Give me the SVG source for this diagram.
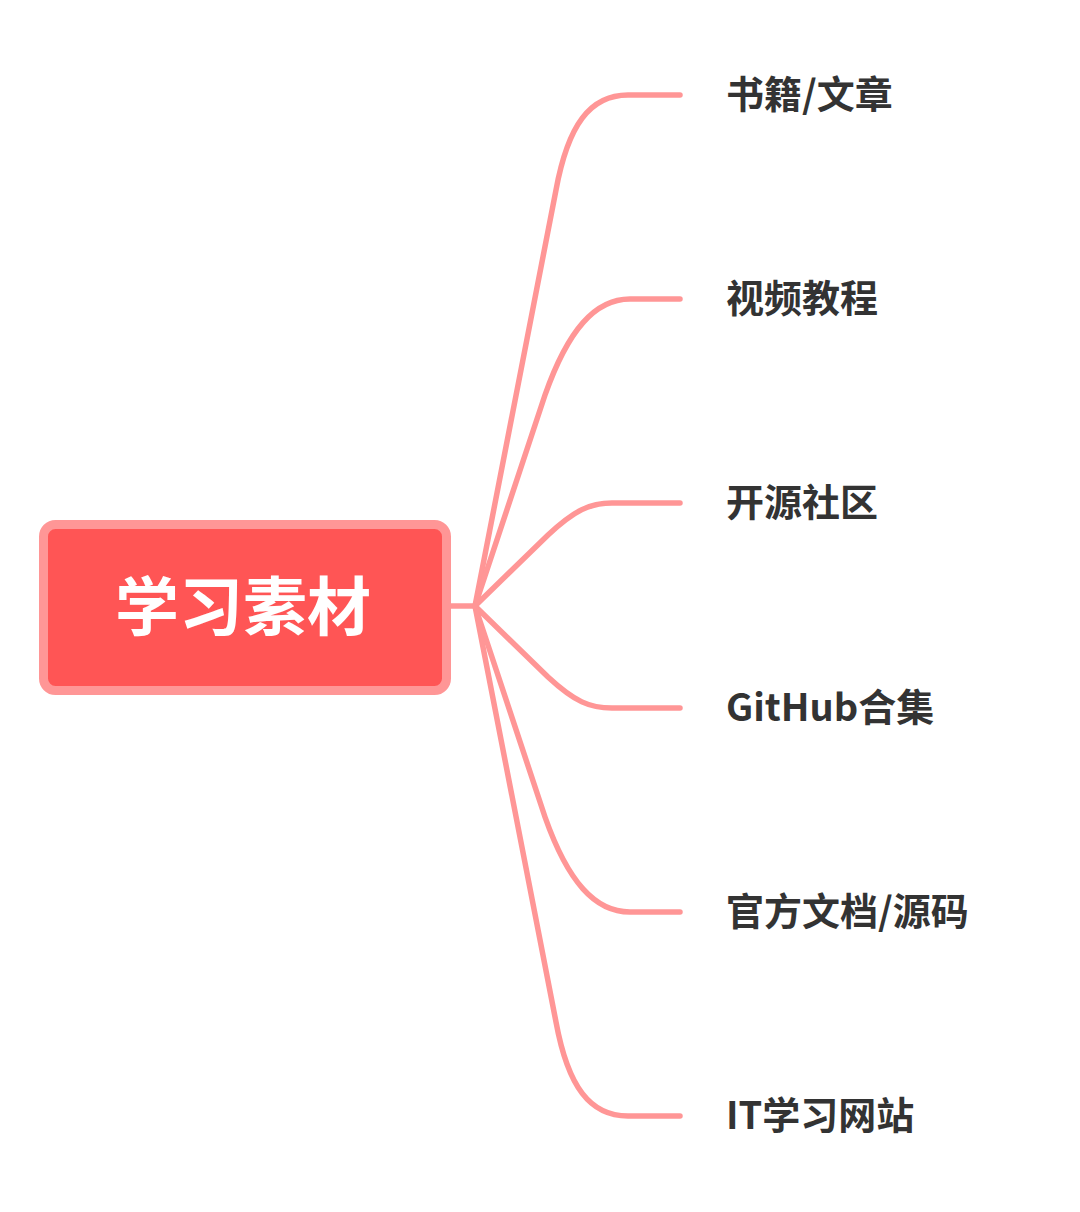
<svg xmlns="http://www.w3.org/2000/svg" width="1080" height="1212" viewBox="0 0 1080 1212">
<style>
.c{fill:none;stroke:#FF9696;stroke-width:5.5;stroke-linecap:round}
.l{font-family:"Noto Sans CJK SC",sans-serif;font-weight:bold;font-size:38px;fill:#333}
</style>
<rect width="1080" height="1212" fill="#fff"/>
<g id="connectors">
<path class="c" d="M451,606 H475"/>
<path class="c" d="M475,606 L556,190 C568,125 590,95 628,95 H680"/>
<path class="c" d="M475,606 L545,395 C568,330 595,299 630,299 H680"/>
<path class="c" d="M475,606 L548,535 C575,510 590,503 612,503 H680"/>
<path class="c" d="M475,606 L548,677 C575,702 590,708 612,708 H680"/>
<path class="c" d="M475,606 L545,817 C568,882 595,912 630,912 H680"/>
<path class="c" d="M475,606 L556,1022 C568,1087 590,1116 628,1116 H680"/>
</g>
<g id="root">
<rect x="43.5" y="524.5" width="403" height="166" rx="12" fill="#FF5555" stroke="#FF9696" stroke-width="9"/>
<text x="243" y="630" text-anchor="middle" font-family="Noto Sans CJK SC,sans-serif" font-weight="bold" font-size="64" fill="#fff">学习素材</text>
</g>
<g id="n1"><text class="l" x="726" y="108">书籍/文章</text></g>
<g id="n2"><text class="l" x="726" y="312">视频教程</text></g>
<g id="n3"><text class="l" x="726" y="516">开源社区</text></g>
<g id="n4"><text class="l" x="726" y="721">GitHub合集</text></g>
<g id="n5"><text class="l" x="726" y="925">官方文档/源码</text></g>
<g id="n6"><text class="l" x="726" y="1129">IT学习网站</text></g>
</svg>
